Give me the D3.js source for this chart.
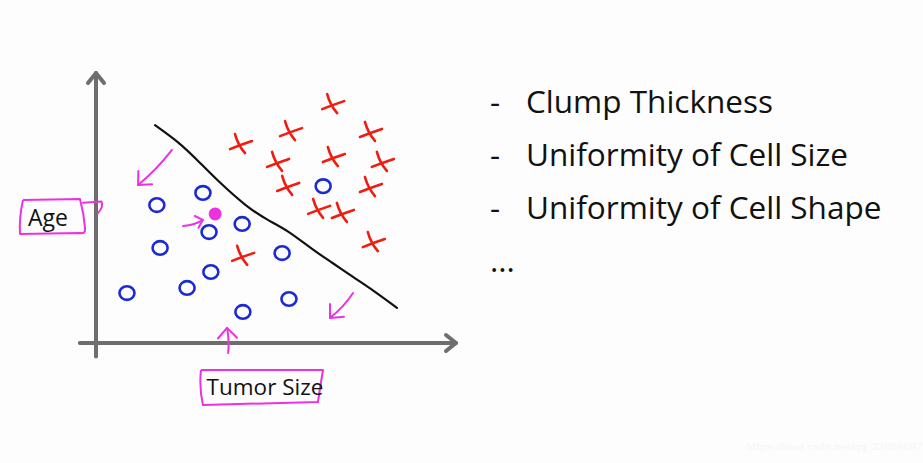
<!DOCTYPE html>
<html><head><meta charset="utf-8">
<script src="https://cdn.jsdelivr.net/npm/d3@7"></script>
<style>html,body{margin:0;padding:0;background:#fdfdfd;}svg{display:block;}</style>
</head><body>
<svg id="c" width="923" height="463"></svg>
<script>
// ---- data (in chart units: x = tumor size, y = age) ----
const benignX = [2.97, 1.69, 3.14, 4.06, 1.78, 5.17, 3.19, 2.53, 0.86, 4.08, 5.36, 6.31];
const benignY = [5.56, 5.11, 4.11, 4.41, 3.52, 3.33, 2.63, 2.04, 1.85, 1.15, 1.63, 5.81];
const malignantX = [6.56, 5.39, 4.00, 7.61, 5.03, 6.58, 7.94, 5.31, 7.61, 6.17, 6.83, 7.69, 4.06];
const malignantY = [8.81, 7.81, 7.33, 7.78, 6.67, 6.85, 6.67, 5.78, 5.74, 4.93, 4.78, 3.70, 3.19];
const boundaryX = [1.64, 2.33, 2.81, 3.44, 4.19, 4.75, 5.31, 6.03, 6.58, 7.14, 7.69, 8.36];
const boundaryY = [8.07, 7.41, 6.78, 5.93, 5.04, 4.56, 4.19, 3.44, 2.96, 2.44, 1.96, 1.30];
const newPoint = [3.31, 4.78];
const arrowTailX = [2.11, 2.42, 7.14, 3.67];
const arrowTailY = [7.15, 4.33, 1.85, -0.37];
const arrowTipX = [1.17, 2.97, 6.50, 3.64];
const arrowTipY = [5.85, 4.56, 0.93, 0.56];
const xLabel = "Tumor Size";
const yLabel = "Age";
const features = ["Clump Thickness", "Uniformity of Cell Size", "Uniformity of Cell Shape"];
const moreText = "...";
const watermark = "https://blog.csdn.net/qq_23869697";

// ---- layout ----
const svg = d3.select("#c");
const x = d3.scaleLinear().domain([0, 10]).range([96, 456]);
const y = d3.scaleLinear().domain([0, 10]).range([343, 73]);

const gray = "#6e6e6e", red = "#f01c10", blue = "#1c2ad4", mag = "#ec32e0";
const font = "'Open Sans', 'Noto Sans', sans-serif";

// axes
const axes = svg.append("g").attr("stroke", gray).attr("stroke-width", 4).attr("fill", "none")
  .attr("stroke-linecap", "round").attr("stroke-linejoin", "round");
axes.append("line").attr("x1", x(0)).attr("y1", y(-0.5)).attr("x2", x(0)).attr("y2", y(10));
axes.append("line").attr("x1", x(-0.45)).attr("y1", y(0)).attr("x2", x(10)).attr("y2", y(0));
axes.append("path").attr("d", `M ${x(0)-8} ${y(10)+10} L ${x(0)} ${y(10)} L ${x(0)+8} ${y(10)+10}`);
axes.append("path").attr("d", `M ${x(10)-10} ${y(0)-8} L ${x(10)} ${y(0)} L ${x(10)-10} ${y(0)+8}`);

// decision boundary
const line = d3.line().curve(d3.curveBasis);
svg.append("path")
  .attr("d", line(boundaryX.map((v, i) => [x(v), y(boundaryY[i])])))
  .attr("fill", "none").attr("stroke", "#111").attr("stroke-width", 2.2).attr("stroke-linecap", "round");

// malignant X marks
const xm = svg.append("g").attr("stroke", red).attr("stroke-width", 2.6).attr("stroke-linecap", "round").attr("fill", "none");
malignantX.forEach((v, i) => {
  const cx = x(v), cy = y(malignantY[i]);
  xm.append("path").attr("d",
    `M ${cx-5} ${cy-11} Q ${cx-2} ${cy} ${cx+5} ${cy+8} M ${cx-10} ${cy+4} Q ${cx} ${cy} ${cx+12} ${cy-4}`);
});

// benign circles
svg.append("g").selectAll("ellipse").data(benignX.map((v, i) => [v, benignY[i]])).join("ellipse")
  .attr("cx", d => x(d[0])).attr("cy", d => y(d[1])).attr("rx", 7.5).attr("ry", 6.8)
  .attr("fill", "none").attr("stroke", blue).attr("stroke-width", 2.6);

// new point
svg.append("circle").attr("cx", x(newPoint[0])).attr("cy", y(newPoint[1])).attr("r", 6.5).attr("fill", mag);

// magenta arrows
const ar = svg.append("g").attr("stroke", mag).attr("stroke-width", 2).attr("fill", "none")
  .attr("stroke-linecap", "round").attr("stroke-linejoin", "round");
arrowTailX.forEach((v, i) => {
  const x1 = x(v), y1 = y(arrowTailY[i]), x2 = x(arrowTipX[i]), y2 = y(arrowTipY[i]);
  const a = Math.atan2(y2 - y1, x2 - x1), L = Math.hypot(x2 - x1, y2 - y1) > 25 ? 14 : 9;
  ar.append("path").attr("d", `M ${x1} ${y1} Q ${(x1+x2)/2+2} ${(y1+y2)/2+2} ${x2} ${y2}`);
  ar.append("path").attr("d",
    `M ${x2 - L*Math.cos(a-0.75)} ${y2 - L*Math.sin(a-0.75)} L ${x2} ${y2} L ${x2 - L*Math.cos(a+0.75)} ${y2 - L*Math.sin(a+0.75)}`);
});
// age pointer
ar.append("path").attr("d", `M ${x(-0.36)} ${y(5.19)} L ${x(0.15)} ${y(5.24)} Q ${x(0.22)} ${y(5.05)} ${x(0.05)} ${y(4.8)}`);

// label boxes
const lb = svg.append("g").attr("stroke", mag).attr("stroke-width", 2).attr("fill", "none").attr("stroke-linejoin", "round");
lb.append("path").attr("d", "M 23 200 L 80 199 Q 84 214 85 228 Q 86 234 80 233 L 20 234 Q 19 218 23 200");
lb.append("path").attr("d", "M 201 370 L 323 370 Q 320 388 318 402 L 203 405 Q 199 388 201 370");

svg.append("text").attr("x", 48).attr("y", 226).attr("text-anchor", "middle")
  .attr("font-family", font).attr("font-size", 23).attr("fill", "#111").text(yLabel);
svg.append("text").attr("x", 265).attr("y", 395).attr("text-anchor", "middle")
  .attr("font-family", font).attr("font-size", 22.5).attr("fill", "#111").text(xLabel);

// feature list
const fl = svg.append("g").attr("font-family", font).attr("font-size", 31.5).attr("fill", "#111");
features.forEach((f, i) => {
  const by = 113 + i * 53;
  fl.append("text").attr("x", 490).attr("y", by).text("-");
  fl.append("text").attr("x", 526).attr("y", by).text(f);
});
fl.append("text").attr("x", 490).attr("y", 272).text(moreText);

svg.append("text").attr("x", 746).attr("y", 450).attr("font-family", "'DejaVu Serif', serif")
  .attr("font-size", 10).attr("fill", "#f5f5f5").text(watermark);
</script>
</body></html>
